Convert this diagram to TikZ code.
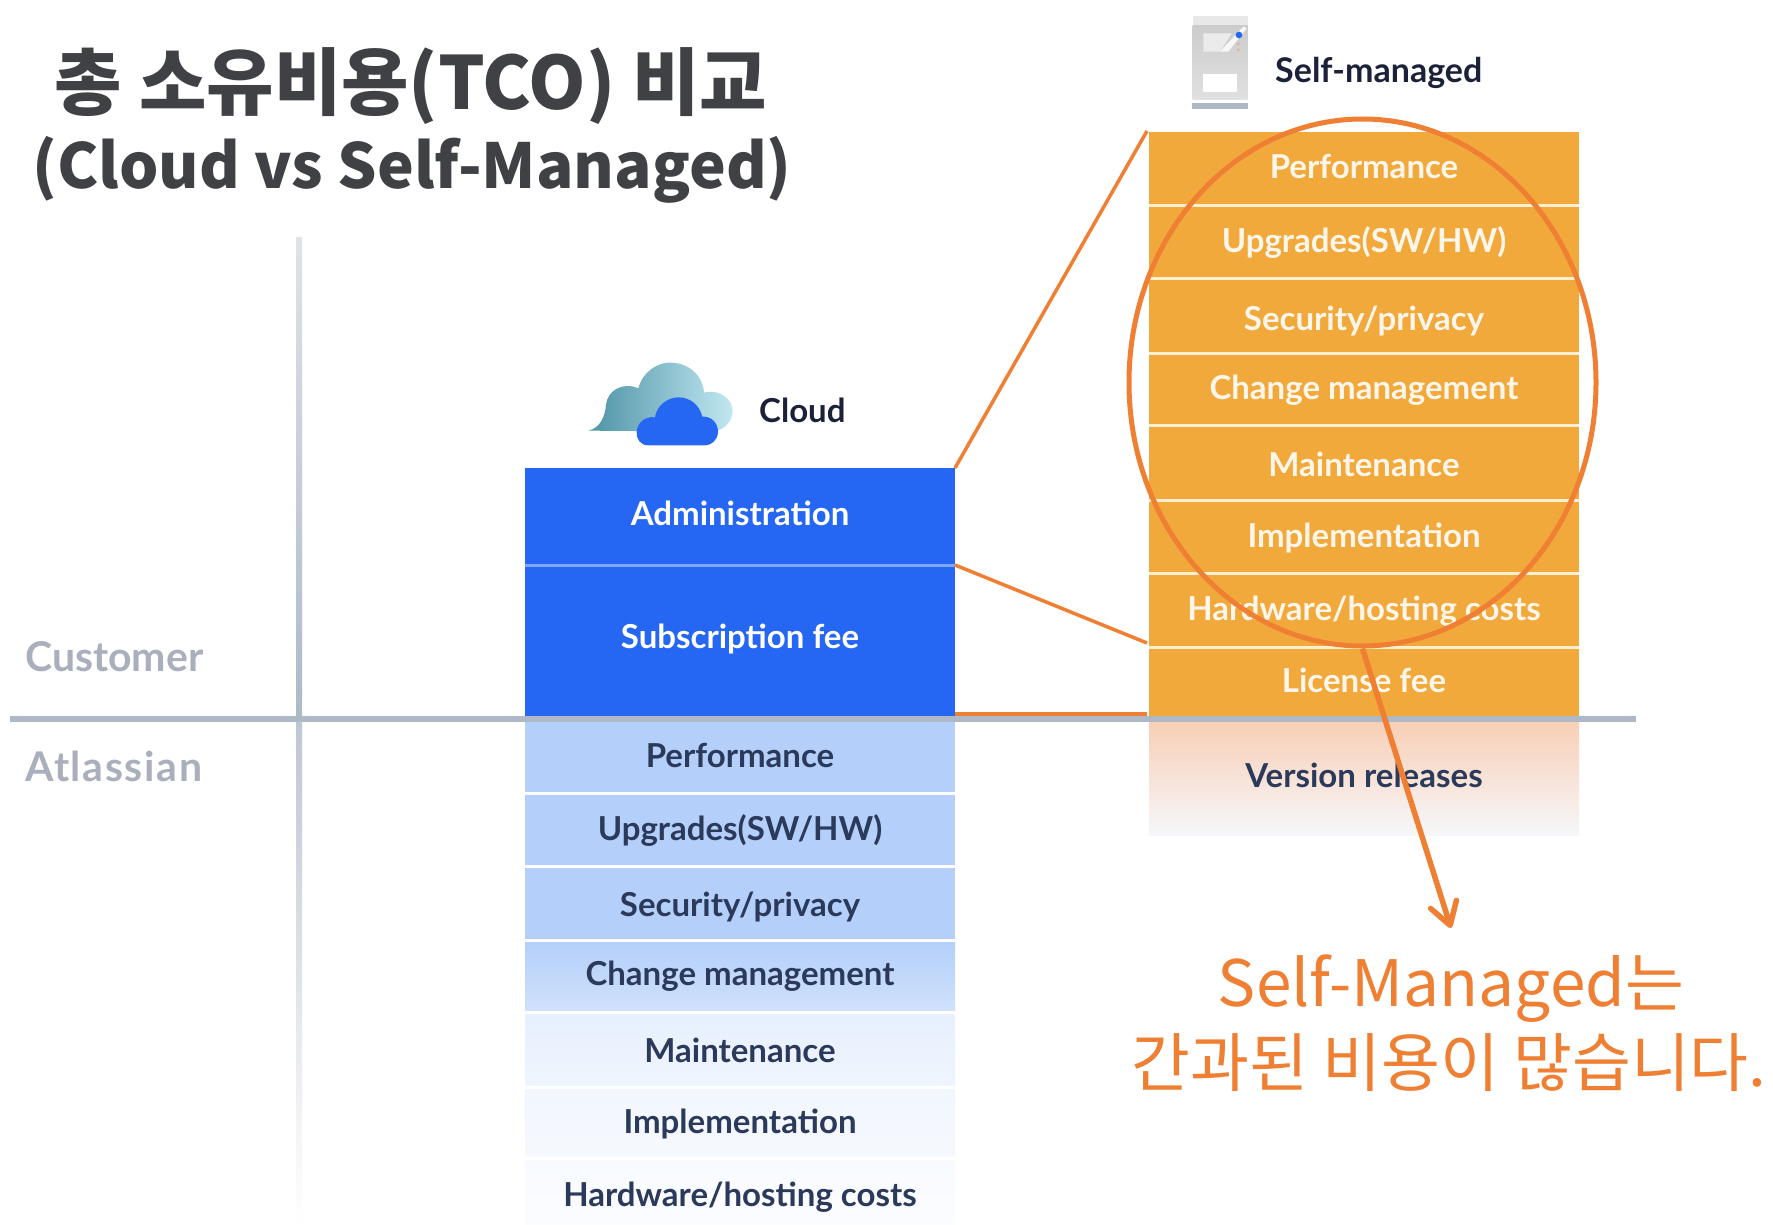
\documentclass[tikz,border=0pt]{standalone}
\usepackage{fontspec}
\setmainfont{Lato}
\newfontfamily\cjk{Noto Sans CJK KR}
\usetikzlibrary{arrows.meta,calc,shapes.geometric}
\definecolor{navy}{HTML}{2B3A5A}
\definecolor{ink}{HTML}{1B2138}
\definecolor{blueA}{HTML}{2566F2}
\definecolor{blueSep}{HTML}{7FA6F5}
\definecolor{lightA}{HTML}{B3CFFA}
\definecolor{orangeA}{HTML}{F2A93B}
\definecolor{orangeL}{HTML}{EE7F33}
\definecolor{orangeSep}{HTML}{FBEFD2}
\definecolor{axisC}{HTML}{AEB8C6}
\definecolor{greyT}{HTML}{A9AFBC}
\definecolor{titleC}{HTML}{3F4145}
\definecolor{cloudA}{HTML}{4D93A5}
\definecolor{cloudB}{HTML}{C2E8F2}
\definecolor{verA}{HTML}{F8CFB6}
\definecolor{verB}{HTML}{F5DFC3}
\definecolor{verC}{HTML}{F6F7FA}
\tikzset{
 boxbase/.style={rectangle,inner sep=0pt,outer sep=0pt,minimum width=430pt,text height=12pt,text depth=12pt,font=\fontsize{33}{35}\selectfont\bfseries},
 bluebox/.style={boxbase,fill=blueA,text=white},
 orbox/.style={boxbase,fill=orangeA,text=white!90!orangeA},
 lightbox/.style={boxbase,text=navy},
 sepwhite/.style={white,line width=3pt},
 seporange/.style={orangeSep,line width=3pt},
 sepblue/.style={blueSep,line width=3pt},
 call/.style={orangeL,line width=3.5pt},
 axis/.style={axisC,line width=5.5pt},
 sidelabel/.style={text=greyT,font=\fontsize{41}{43}\selectfont\bfseries,anchor=base west,inner sep=0pt},
 headlabel/.style={text=ink,font=\fontsize{33}{35}\selectfont\bfseries,anchor=base west,inner sep=0pt},
 titlebig/.style={text=titleC,font=\cjk\bfseries\fontsize{73.3}{75}\selectfont,inner sep=0pt},
 titlesub/.style={text=titleC,font=\cjk\bfseries\fontsize{62}{64}\selectfont,inner sep=0pt},
 note/.style={text=orangeL,font=\cjk\fontsize{64}{66}\selectfont,inner sep=0pt},
}
% name, x, top, bottom, text centre, style, text
\newcommand\stackrow[7]{%
 \pgfmathsetmacro\rowc{(#3+#4)/2}%
 \pgfmathsetmacro\rowh{#4-#3}%
 \pgfmathsetmacro\rowr{\rowc-#5-12}%
 \node[#6,minimum height=\rowh pt] (#1) at (#2,\rowc) {\raisebox{\rowr pt}{#7}};}
\begin{document}
\begin{tikzpicture}[x=1pt,y=-1pt]
\useasboundingbox (0,0) rectangle (1773,1225);
\fill[white] (0,0) rectangle (1773,1225);
% title
\node[titlebig] (t1) at (411,86) {총 소유비용(TCO) 비교};
\node[titlesub] (t2) at (412,170) {(Cloud vs Self-Managed)};
% vertical axis
\shade[top color=axisC!40,bottom color=axisC] (296,238) rectangle (302,719);
\shade[top color=axisC!80,middle color=axisC!50,bottom color=white] (296,719) rectangle (302,1225);
% left stack
\stackrow{adm}{740}{468}{565}{513}{bluebox}{Administration}
\stackrow{sub}{740}{565}{717}{636}{bluebox}{Subscription fee}
\stackrow{la}{740}{722}{793}{755}{lightbox,fill=lightA}{Performance}
\stackrow{lb}{740}{793}{866}{828}{lightbox,fill=lightA}{Upgrades(SW/HW)}
\stackrow{lc}{740}{866}{940}{904}{lightbox,fill=lightA}{Security/privacy}
\stackrow{ld}{740}{940}{1012}{973}{lightbox,top color=lightA,bottom color=lightA!62!white}{Change management}
\stackrow{le}{740}{1012}{1087}{1050}{lightbox,top color=lightA!32!white,bottom color=lightA!20!white}{Maintenance}
\stackrow{lf}{740}{1087}{1158}{1121}{lightbox,top color=lightA!18!white,bottom color=lightA!12!white}{Implementation}
\stackrow{lg}{740}{1158}{1225}{1194}{lightbox,top color=lightA!10!white,bottom color=lightA!5!white}{Hardware/hosting costs}
\draw[sepblue] (adm.south west) -- (adm.south east);
\foreach \r in {la,lb,lc,ld,le,lf} {\draw[sepwhite] (\r.south west) -- (\r.south east);}
% right stack
\stackrow{ra}{1364}{132}{206}{167}{orbox}{Performance}
\stackrow{rb}{1364}{206}{279}{241}{orbox}{Upgrades(SW/HW)}
\stackrow{rc}{1364}{279}{353}{318}{orbox}{Security/privacy}
\stackrow{rd}{1364}{353}{425}{387}{orbox}{Change management}
\stackrow{re}{1364}{425}{500}{464}{orbox}{Maintenance}
\stackrow{rf}{1364}{500}{573}{535}{orbox}{Implementation}
\stackrow{rg}{1364}{573}{647}{608}{orbox}{Hardware/hosting costs}
\stackrow{rh}{1364}{647}{717}{680}{orbox}{License fee}
\stackrow{ri}{1364}{722}{835}{775}{lightbox,top color=verA,middle color=verB,bottom color=verC}{Version releases}
\foreach \r in {ra,rb,rc,rd,re,rf,rg} {\draw[seporange] (\r.south west) -- (\r.south east);}
% base axis
\coordinate (baseL) at (10,719);
\coordinate (baseR) at (1636,719);
\draw[axis] (baseL) -- (baseR);
% side labels
\node[sidelabel] (cust) at (25,671) {Customer};
\node[sidelabel] (atl) at (25,781) {\addfontfeature{LetterSpace=4}Atlassian};
% cloud icon
\begin{scope}[shift={(500,340)},x=0.3333pt,y=-0.3333pt]
\shade[left color=cloudA,right color=cloudB] (265,272) .. controls (300,265) and (315,230) .. (318,195) .. controls (322,150) and (370,125) .. (415,145) .. controls (430,90) and (480,65) .. (515,68) .. controls (570,70) and (610,110) .. (612,158) .. controls (660,145) and (700,180) .. (698,215) .. controls (695,250) and (670,270) .. (640,275) -- cycle;
\fill[blueA] (445,316) .. controls (420,316) and (408,295) .. (410,275) .. controls (412,245) and (440,228) .. (465,232) .. controls (470,195) and (505,172) .. (535,172) .. controls (575,172) and (600,200) .. (607,230) .. controls (635,228) and (655,250) .. (654,278) .. controls (652,300) and (635,316) .. (615,316) -- cycle;
\end{scope}
\node[headlabel] (cloudT) at (759,422) {Cloud};
% server icon
\begin{scope}[shift={(1100,0)},x=0.3333pt,y=-0.3333pt]
\fill[black!9] (278,48) rectangle (443,78);
\shade[top color=black!20,bottom color=black!12] (278,78) rectangle (443,298);
\fill[black!8] (310,100) -- (395,100) -- (360,155) -- (310,155) -- cycle;
\fill[black!3] (360,155) -- (430,80) -- (440,85) -- (385,155) -- cycle;
\fill[white] (310,222) rectangle (410,277);
\fill[axisC] (276,308) rectangle (445,328);
\fill[blueA] (417,105) circle (10);
\fill[orangeL!70!white] (415,132) circle (4);
\fill[orangeL!70!white] (415,150) circle (4);
\end{scope}
\node[headlabel,font=\fontsize{34}{36}\selectfont\bfseries] (selfT) at (1275,83) {Self-managed};
% connectors
\coordinate (zoomA) at (955,714);
\coordinate (zoomB) at (1147,714);
\coordinate (zoomC) at (1147,643);
\coordinate (zoomD) at (1147,131);
\draw[call] (adm.north east) -- (zoomD);
\draw[call] (adm.south east) -- (zoomC);
\draw[call] (zoomA) -- (zoomB);
% ellipse and arrow
\node[ellipse,draw=orangeL,line width=5pt,minimum width=467pt,minimum height=527pt,inner sep=0pt] (ell) at (1362.5,382.5) {};
\coordinate (tip) at (1451,928);
\draw[orangeL,line width=5.5pt,-{Straight Barb[length=22pt,width=27pt,line width=5.5pt,round]}] (ell.south) -- (tip);
% note
\node[note] (n1) at (1451,989) {Self-Managed는};
\node[note] (n2) at (1449,1063) {간과된 비용이 많습니다.};
\end{tikzpicture}
\end{document}
